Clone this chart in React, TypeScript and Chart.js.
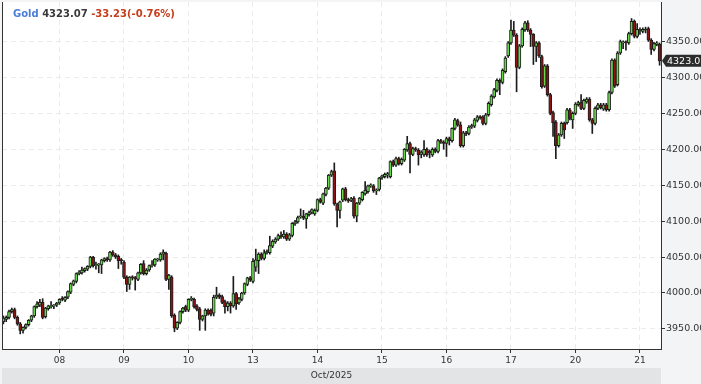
import { useEffect, useRef } from "react";
import { Chart, registerables } from "chart.js";

Chart.register(...registerables);

// ---- data ----
const dayLabels = ["08", "09", "10", "13", "14", "15", "16", "17", "20", "21"];
const firstDayIndex = 20;
const candlesPerDay = 23;
const yTicks = [3950, 4000, 4050, 4100, 4150, 4200, 4250, 4300, 4350];
const yMin = 3922;
const yMax = 4405;
const symbol = "Gold";
const lastText = "4323.07";
const changeText = "-33.23(-0.76%)";
const monthLabel = "Oct/2025";
const lastPrice = 4323.07;

const opens = [
  3960, 3963, 3966, 3974, 3977, 3966, 3957, 3948, 3952, 3956,
  3962, 3968, 3981, 3983, 3987, 3967, 3978, 3981, 3982, 3983,
  3986, 3993, 3990, 3994, 4001, 4012, 4016, 4027, 4028, 4031,
  4033, 4037, 4050, 4038, 4039, 4039, 4045, 4048, 4046, 4057,
  4053, 4051, 4046, 4043, 4022, 4012, 4022, 4021, 4019, 4028,
  4041, 4027, 4032, 4038, 4039, 4046, 4046, 4054, 4055, 4019,
  4022, 3969, 3951, 3959, 3974, 3981, 3976, 3991, 3991, 3982,
  3978, 3963, 3968, 3976, 3976, 3972, 3994, 3997, 3995, 3988,
  3981, 3986, 3982, 3999, 3986, 3991, 4000, 4012, 4021, 4016,
  4036, 4045, 4054, 4048, 4056, 4056, 4065, 4071, 4075, 4080,
  4078, 4082, 4075, 4080, 4096, 4099, 4106, 4107, 4103, 4109,
  4112, 4110, 4115, 4130, 4125, 4137, 4146, 4164, 4170, 4123,
  4115, 4129, 4145, 4130, 4129, 4132, 4107, 4125, 4130, 4138,
  4141, 4149, 4149, 4142, 4144, 4160, 4162, 4164, 4162, 4183,
  4178, 4187, 4180, 4185, 4199, 4208, 4193, 4201, 4199, 4193,
  4193, 4200, 4197, 4192, 4200, 4197, 4212, 4210, 4208, 4215,
  4212, 4229, 4240, 4234, 4205, 4223, 4222, 4231, 4232, 4240,
  4245, 4245, 4236, 4248, 4262, 4273, 4282, 4296, 4293, 4308,
  4330, 4348, 4366, 4359, 4314, 4344, 4366, 4376, 4366, 4360,
  4343, 4348, 4329, 4288, 4316, 4276, 4251, 4238, 4205, 4220,
  4236, 4237, 4255, 4241, 4250, 4262, 4265, 4257, 4266, 4270,
  4241, 4236, 4257, 4262, 4256, 4262, 4255, 4279, 4324, 4290,
  4334, 4348, 4349, 4348, 4361, 4378, 4357, 4365, 4364, 4367,
  4368, 4352, 4339, 4346, 4346,
];

const highs = [
  3968, 3968, 3976, 3979, 3979, 3968, 3959, 3953, 3957, 3963,
  3969, 3982, 3988, 3991, 3992, 3980, 3983, 3988, 3984, 3987,
  3992, 3995, 3995, 4003, 4014, 4018, 4028, 4031, 4036, 4035,
  4038, 4051, 4051, 4043, 4041, 4047, 4049, 4050, 4058, 4059,
  4055, 4053, 4048, 4045, 4024, 4023, 4024, 4023, 4029, 4041,
  4045, 4034, 4039, 4045, 4048, 4048, 4056, 4060, 4057, 4026,
  4024, 3971, 3960, 3975, 3980, 3983, 3992, 3995, 3993, 3984,
  3980, 3969, 3978, 3978, 3978, 3997, 4008, 3999, 3997, 3990,
  3988, 3988, 4023, 4001, 3994, 4001, 4014, 4022, 4023, 4048,
  4061, 4056, 4056, 4060, 4060, 4079, 4074, 4077, 4082, 4085,
  4087, 4084, 4083, 4098, 4101, 4107, 4117, 4115, 4111, 4114,
  4117, 4117, 4131, 4132, 4139, 4147, 4165, 4171, 4181, 4125,
  4128, 4146, 4147, 4132, 4133, 4134, 4126, 4133, 4141, 4155,
  4150, 4152, 4151, 4145, 4161, 4164, 4167, 4168, 4184, 4185,
  4189, 4189, 4188, 4201, 4218, 4210, 4203, 4203, 4201, 4198,
  4212, 4202, 4199, 4202, 4202, 4214, 4214, 4212, 4217, 4217,
  4230, 4243, 4242, 4238, 4225, 4225, 4233, 4235, 4243, 4247,
  4247, 4247, 4250, 4266, 4276, 4285, 4298, 4298, 4312, 4329,
  4350, 4380, 4378, 4361, 4346, 4369, 4378, 4379, 4368, 4361,
  4350, 4350, 4331, 4318, 4318, 4278, 4253, 4240, 4222, 4238,
  4238, 4257, 4257, 4252, 4265, 4267, 4276, 4270, 4272, 4272,
  4243, 4259, 4264, 4264, 4264, 4264, 4281, 4326, 4326, 4336,
  4352, 4351, 4351, 4363, 4382, 4380, 4375, 4369, 4369, 4370,
  4370, 4354, 4349, 4350, 4348,
];

const lows = [
  3957, 3960, 3964, 3972, 3964, 3955, 3943, 3944, 3950, 3954,
  3960, 3966, 3979, 3981, 3964, 3965, 3976, 3979, 3978, 3981,
  3984, 3989, 3988, 3992, 3999, 4010, 4014, 4025, 4026, 4029,
  4031, 4035, 4036, 4033, 4028, 4027, 4043, 4044, 4044, 4051,
  4048, 4034, 4040, 4020, 4002, 4005, 4018, 4004, 4017, 4026,
  4025, 4025, 4030, 4036, 4037, 4044, 4044, 4046, 4017, 4005,
  3966, 3946, 3949, 3957, 3972, 3974, 3974, 3989, 3979, 3975,
  3948, 3961, 3948, 3969, 3968, 3968, 3992, 3992, 3985, 3972,
  3975, 3972, 3980, 3977, 3984, 3989, 3998, 4010, 4016, 4014,
  4030, 4027, 4046, 4046, 4054, 4054, 4063, 4069, 4073, 4076,
  4076, 4073, 4073, 4078, 4094, 4097, 4104, 4102, 4090, 4107,
  4110, 4108, 4113, 4125, 4123, 4135, 4144, 4162, 4122, 4092,
  4104, 4127, 4128, 4126, 4127, 4104, 4099, 4123, 4128, 4136,
  4139, 4147, 4140, 4137, 4142, 4158, 4160, 4160, 4160, 4176,
  4176, 4178, 4178, 4183, 4197, 4167, 4191, 4197, 4178, 4188,
  4190, 4190, 4188, 4190, 4195, 4195, 4208, 4200, 4190, 4206,
  4210, 4227, 4232, 4203, 4203, 4219, 4220, 4229, 4230, 4238,
  4242, 4234, 4234, 4246, 4260, 4271, 4280, 4276, 4291, 4306,
  4328, 4346, 4357, 4280, 4312, 4342, 4364, 4364, 4343, 4318,
  4322, 4328, 4285, 4286, 4274, 4248, 4218, 4187, 4203, 4218,
  4215, 4235, 4241, 4229, 4248, 4260, 4255, 4255, 4264, 4239,
  4222, 4234, 4255, 4256, 4254, 4253, 4253, 4277, 4286, 4288,
  4332, 4340, 4338, 4346, 4359, 4355, 4355, 4360, 4362, 4362,
  4350, 4332, 4337, 4344, 4317,
];

const closes = [
  3965, 3966, 3974, 3977, 3966, 3957, 3948, 3952, 3956, 3962,
  3968, 3981, 3985, 3987, 3966, 3979, 3982, 3982, 3983, 3986,
  3991, 3991, 3994, 4002, 4013, 4017, 4027, 4029, 4032, 4034,
  4037, 4050, 4038, 4039, 4040, 4046, 4048, 4046, 4057, 4053,
  4050, 4045, 4045, 4022, 4012, 4022, 4021, 4020, 4028, 4040,
  4027, 4032, 4038, 4039, 4047, 4046, 4054, 4057, 4019, 4025,
  3968, 3951, 3959, 3974, 3979, 3976, 3991, 3991, 3981, 3977,
  3963, 3968, 3976, 3971, 3970, 3994, 3997, 3994, 3987, 3981,
  3986, 3982, 3999, 3985, 3992, 4000, 4013, 4021, 4018, 4044,
  4046, 4054, 4048, 4056, 4058, 4066, 4072, 4075, 4080, 4078,
  4082, 4075, 4081, 4097, 4099, 4105, 4107, 4104, 4110, 4112,
  4116, 4115, 4130, 4127, 4138, 4146, 4164, 4169, 4124, 4115,
  4127, 4145, 4130, 4128, 4131, 4107, 4125, 4132, 4140, 4143,
  4149, 4150, 4142, 4143, 4160, 4163, 4165, 4166, 4183, 4178,
  4187, 4180, 4186, 4200, 4208, 4193, 4201, 4199, 4192, 4196,
  4200, 4192, 4195, 4200, 4197, 4212, 4210, 4208, 4215, 4212,
  4229, 4241, 4234, 4205, 4223, 4221, 4231, 4233, 4241, 4245,
  4244, 4236, 4248, 4264, 4274, 4283, 4296, 4293, 4310, 4327,
  4348, 4366, 4359, 4314, 4344, 4367, 4376, 4366, 4360, 4343,
  4348, 4330, 4287, 4316, 4276, 4250, 4237, 4205, 4220, 4236,
  4227, 4255, 4243, 4250, 4263, 4265, 4257, 4268, 4270, 4241,
  4236, 4257, 4262, 4258, 4262, 4255, 4279, 4324, 4288, 4334,
  4350, 4349, 4348, 4361, 4378, 4357, 4367, 4367, 4367, 4366,
  4352, 4339, 4347, 4348, 4323.07,
];

// ---- styling ----
const UP = "#68d94a";
const DOWN = "#8e1414";
const EDGE = "#1c1c1c";
const GRID = "#ebebeb";
const AXIS = "#333333";
const TEXT = "#333333";
const FONT = "'DejaVu Sans', sans-serif";

const categories = opens.map((_, i) => {
  const k = i - firstDayIndex;
  return k >= 0 && k % candlesPerDay === 0 ? dayLabels[k / candlesPerDay] : "";
});
const dayTickIndices = categories.map((c, i) => (c ? i : -1)).filter((i) => i >= 0);

const decorPlugin = {
  id: "decor",
  beforeDraw(chart: any) {
    const { ctx, chartArea: a, width, height } = chart;
    ctx.save();
    ctx.fillStyle = "#f3f4f6";
    ctx.fillRect(0, 0, width, height);
    ctx.fillStyle = "#ffffff";
    ctx.fillRect(a.left, a.top, a.right - a.left, a.bottom - a.top);
    ctx.fillStyle = "#e3e4e6";
    ctx.fillRect(a.left, height - 16, a.right - a.left, 16);
    ctx.restore();
  },
  afterDraw(chart: any) {
    const { ctx, chartArea: a, width, height } = chart;
    ctx.save();
    // left frame line
    ctx.strokeStyle = AXIS;
    ctx.lineWidth = 1;
    ctx.beginPath();
    ctx.moveTo(a.left + 0.5, a.top);
    ctx.lineTo(a.left + 0.5, a.bottom);
    ctx.stroke();
    // title
    ctx.font = "bold 10px " + FONT;
    ctx.textBaseline = "alphabetic";
    let x = 13;
    const y = 17;
    ctx.fillStyle = "#4a7fd6";
    ctx.fillText(symbol, x, y);
    x += ctx.measureText(symbol + " ").width;
    ctx.fillStyle = "#3a3a3a";
    ctx.fillText(lastText, x, y);
    x += ctx.measureText(lastText + " ").width;
    ctx.fillStyle = "#c63d1a";
    ctx.fillText(changeText, x, y);
    // month label
    ctx.font = "9px " + FONT;
    ctx.fillStyle = TEXT;
    ctx.textAlign = "center";
    ctx.textBaseline = "middle";
    ctx.fillText(monthLabel, (a.left + a.right) / 2, height - 8);
    // last price tag
    const py = chart.scales.y.getPixelForValue(lastPrice);
    ctx.fillStyle = "#2b2b2b";
    ctx.beginPath();
    ctx.moveTo(a.right + 1, py);
    ctx.lineTo(a.right + 5, py - 6);
    ctx.lineTo(width, py - 6);
    ctx.lineTo(width, py + 6);
    ctx.lineTo(a.right + 5, py + 6);
    ctx.closePath();
    ctx.fill();
    ctx.fillStyle = "#ffffff";
    ctx.textAlign = "left";
    ctx.font = "9.5px " + FONT;
    ctx.fillText(lastText, a.right + 6, py + 0.5);
    ctx.restore();
  },
};

export default function App() {
  const ref = useRef<HTMLCanvasElement | null>(null);

  useEffect(() => {
    if (!ref.current) return;
    const bodyColors = closes.map((c, i) => (c >= opens[i] ? UP : DOWN));
    const chart = new Chart(ref.current, {
      type: "bar",
      data: {
        labels: categories,
        datasets: [
          {
            label: "body",
            data: opens.map((o, i) => [o, closes[i]]) as any,
            backgroundColor: bodyColors,
            borderColor: EDGE,
            borderWidth: 1,
            borderSkipped: false,
            barThickness: 3,
            minBarLength: 1,
            grouped: false,
            order: 0,
          } as any,
          {
            label: "wick",
            data: lows.map((l, i) => [l, highs[i]]) as any,
            backgroundColor: EDGE,
            borderWidth: 0,
            barThickness: 1,
            grouped: false,
            order: 1,
          } as any,
        ],
      },
      options: {
        animation: false,
        responsive: false,
        devicePixelRatio: 1,
        layout: { padding: { left: 2, top: 2, right: 0, bottom: 16 }, autoPadding: false } as any,
        plugins: { legend: { display: false }, tooltip: { enabled: false }, title: { display: false } },
        scales: {
          x: {
            type: "category",
            offset: true,
            grid: {
              offset: false,
              color: GRID,
              tickColor: AXIS,
              tickLength: 4,
              drawOnChartArea: true,
            },
            border: { display: true, color: AXIS, width: 1, dash: [5, 4] },
            ticks: {
              autoSkip: false,
              maxRotation: 0,
              minRotation: 0,
              padding: 2,
              color: TEXT,
              font: { family: FONT, size: 9 },
            },
            afterBuildTicks: (scale: any) => {
              scale.ticks = dayTickIndices.map((i) => ({ value: i }));
            },
            afterFit: (scale: any) => {
              scale.height = 19;
              scale.paddingLeft = 0;
              scale.paddingRight = 0;
            },
          },
          y: {
            type: "linear",
            position: "right",
            min: yMin,
            max: yMax,
            grid: { color: GRID, tickColor: AXIS, tickLength: 4 },
            border: { display: true, color: AXIS, width: 1, dash: [5, 4] },
            ticks: {
              padding: 1,
              color: TEXT,
              font: { family: FONT, size: 9.5 },
              callback: (v: any) => Number(v).toFixed(2),
            },
            afterBuildTicks: (scale: any) => {
              scale.ticks = yTicks.map((v) => ({ value: v }));
            },
            afterFit: (scale: any) => {
              scale.width = 40;
              scale.paddingTop = 0;
              scale.paddingBottom = 0;
            },
          },
        },
      },
      plugins: [decorPlugin],
    });
    return () => chart.destroy();
  }, []);

  return (
    <div style={{ position: "absolute", left: 0, top: 0, width: 701, height: 384 }}>
      <canvas ref={ref} width={701} height={384} style={{ display: "block" }} />
    </div>
  );
}
